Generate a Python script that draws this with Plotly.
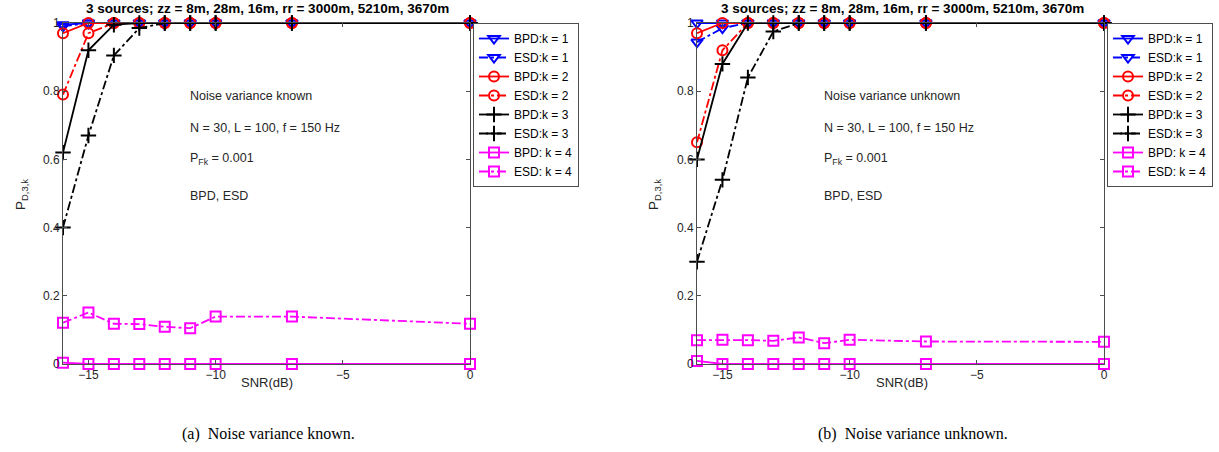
import plotly.graph_objects as go

snr = [-16, -15, -14, -13, -12, -11, -10, -7, 0]

# Left: noise variance known
a_bpd1 = [0.995, 1, 1, 1, 1, 1, 1, 1, 1]
a_esd1 = [0.99, 1, 1, 1, 1, 1, 1, 1, 1]
a_bpd2 = [0.97, 1.0, 1, 1, 1, 1, 1, 1, 1]
a_esd2 = [0.79, 0.97, 1, 1, 1, 1, 1, 1, 1]
a_bpd3 = [0.62, 0.92, 0.995, 1, 1, 1, 1, 1, 1]
a_esd3 = [0.40, 0.67, 0.905, 0.985, 1, 1, 1, 1, 1]
a_bpd4 = [0.004, 0, 0, 0, 0, 0, 0, 0, 0]
a_esd4 = [0.121, 0.151, 0.118, 0.117, 0.109, 0.105, 0.139, 0.139, 0.118]

# Right: noise variance unknown
b_bpd1 = [1, 1, 1, 1, 1, 1, 1, 1, 1]
b_esd1 = [0.944, 0.985, 1, 1, 1, 1, 1, 1, 1]
b_bpd2 = [0.97, 1.0, 1, 1, 1, 1, 1, 1, 1]
b_esd2 = [0.65, 0.92, 1, 1, 1, 1, 1, 1, 1]
b_bpd3 = [0.60, 0.88, 1, 1, 1, 1, 1, 1, 1]
b_esd3 = [0.30, 0.54, 0.84, 0.975, 1, 1, 1, 1, 1]
b_bpd4 = [0.009, 0, 0, 0, 0, 0, 0, 0, 0]
b_esd4 = [0.070, 0.071, 0.070, 0.068, 0.078, 0.061, 0.071, 0.066, 0.065]

legend_names = ["BPD:k = 1", "ESD:k = 1", "BPD:k = 2", "ESD:k = 2",
                "BPD:k = 3", "ESD:k = 3", "BPD: k = 4", "ESD: k = 4"]
title_text = "3 sources; zz = 8m, 28m, 16m, rr = 3000m, 5210m, 3670m"
notes_a = ["Noise variance known", "N = 30, L = 100, f = 150 Hz",
           "P<sub>Fk</sub> = 0.001", "BPD, ESD"]
notes_b = ["Noise variance unknown", "N = 30, L = 100, f = 150 Hz",
           "P<sub>Fk</sub> = 0.001", "BPD, ESD"]
captions = ["(a)  Noise variance known.", "(b)  Noise variance unknown."]

W, H = 1219, 452
styles = [
    ("#0000ff", "solid", "triangle-down-open"),
    ("#0000ff", "dashdot", "triangle-down-open"),
    ("#ff0000", "solid", "circle-open"),
    ("#ff0000", "dashdot", "circle-open"),
    ("#000000", "solid", "cross-thin-open"),
    ("#000000", "dashdot", "cross-thin-open"),
    ("#ff00ff", "solid", "square-open"),
    ("#ff00ff", "dashdot", "square-open"),
]

fig = go.Figure()
sets = [
    ([a_bpd1, a_esd1, a_bpd2, a_esd2, a_bpd3, a_esd3, a_bpd4, a_esd4], "x", "y", "legend"),
    ([b_bpd1, b_esd1, b_bpd2, b_esd2, b_bpd3, b_esd3, b_bpd4, b_esd4], "x2", "y2", "legend2"),
]
for series, xa, ya, lg in sets:
    for vals, name, (col, dash, sym) in zip(series, legend_names, styles):
        fig.add_trace(go.Scatter(
            x=snr, y=vals, name=name, xaxis=xa, yaxis=ya, legend=lg,
            mode="lines+markers", cliponaxis=False,
            line=dict(color=col, dash=dash, width=1.8),
            marker=dict(symbol=sym, size=10 if "cross" not in sym else 11,
                        color=col, line=dict(color=col, width=2)),
        ))


def px_x(p):
    return p / W


def px_y(p):
    return 1 - p / H


xdomA = [px_x(63), px_x(470)]
xdomB = [px_x(697), px_x(1104)]
ydom = [px_y(364), px_y(23)]

axis_common = dict(
    showline=True, linecolor="#4d4d4d", linewidth=1, mirror="ticks",
    ticks="inside", ticklen=4, tickcolor="#4d4d4d", showgrid=False, zeroline=False,
    automargin=False,
    tickfont=dict(family="Liberation Sans, Arial", size=12, color="#262626"),
)
yticks = [0, 0.2, 0.4, 0.6, 0.8, 1]
yticktext = ["0", "0.2", "0.4", "0.6", "0.8", "1"]
legend_font = dict(family="Liberation Sans, Arial", size=12, color="#000")
fig.update_layout(
    width=W, height=H, margin=dict(l=0, r=0, t=0, b=0, pad=0, autoexpand=False),
    paper_bgcolor="white", plot_bgcolor="white",
    xaxis=dict(domain=xdomA, range=[-16, 0], tickvals=[-15, -10, -5, 0], anchor="y", **axis_common),
    yaxis=dict(domain=ydom, range=[0, 1], tickvals=yticks, ticktext=yticktext, anchor="x", **axis_common),
    xaxis2=dict(domain=xdomB, range=[-16, 0], tickvals=[-15, -10, -5, 0], anchor="y2", **axis_common),
    yaxis2=dict(domain=ydom, range=[0, 1], tickvals=yticks, ticktext=yticktext, anchor="x2", **axis_common),
    legend=dict(x=px_x(473), y=px_y(23), xanchor="left", yanchor="top",
                bordercolor="#4d4d4d", borderwidth=1, bgcolor="white",
                font=legend_font, tracegroupgap=0, itemwidth=30),
    legend2=dict(x=px_x(1107), y=px_y(23), xanchor="left", yanchor="top",
                 bordercolor="#4d4d4d", borderwidth=1, bgcolor="white",
                 font=legend_font, tracegroupgap=0, itemwidth=30),
    showlegend=True,
)

anns = []
font_s = dict(family="Liberation Sans, Arial", size=12.5, color="#262626")
for cx, ylab_x, notes, note_x, cap_x, cap in [
    (267, 22, notes_a, 190, 268, captions[0]),
    (902, 655, notes_b, 824, 913, captions[1]),
]:
    anns.append(dict(text="<b>" + title_text + "</b>", x=px_x(cx), y=px_y(9), xref="paper", yref="paper",
                     showarrow=False, xanchor="center", yanchor="middle",
                     font=dict(family="Liberation Sans, Arial", size=13.5, color="#000")))
    anns.append(dict(text="SNR(dB)", x=px_x(cx), y=px_y(382), xref="paper", yref="paper",
                     showarrow=False, xanchor="center", yanchor="middle",
                     font=dict(family="Liberation Sans, Arial", size=13, color="#262626")))
    anns.append(dict(text="P<sub>D,3,k</sub>", x=px_x(ylab_x), y=px_y(195), xref="paper", yref="paper",
                     showarrow=False, xanchor="center", yanchor="middle", textangle=-90,
                     font=dict(family="Liberation Sans, Arial", size=13.5, color="#262626")))
    for t, yy in zip(notes, [96, 128, 159, 196]):
        anns.append(dict(text=t, x=px_x(note_x - 2), y=px_y(yy), xref="paper", yref="paper",
                         showarrow=False, xanchor="left", yanchor="middle", font=font_s))
    anns.append(dict(text=cap, x=px_x(cap_x), y=px_y(434), xref="paper", yref="paper",
                     showarrow=False, xanchor="center", yanchor="middle",
                     font=dict(family="Liberation Serif, Times New Roman", size=16, color="#000")))
fig.update_layout(annotations=anns)

post = (
    "document.documentElement.style.margin='0px';"
    "document.documentElement.style.padding='0px';"
    "document.documentElement.style.overflow='hidden';"
    "document.body.style.margin='0px';"
    "document.body.style.padding='0px';"
    "document.body.style.overflow='hidden';"
    "var gd=document.getElementsByClassName('plotly-graph-div')[0];"
    "gd.style.position='absolute';gd.style.top='0px';gd.style.left='0px';"
)
fig.write_html("out.html", config={"displayModeBar": False}, post_script=post)
